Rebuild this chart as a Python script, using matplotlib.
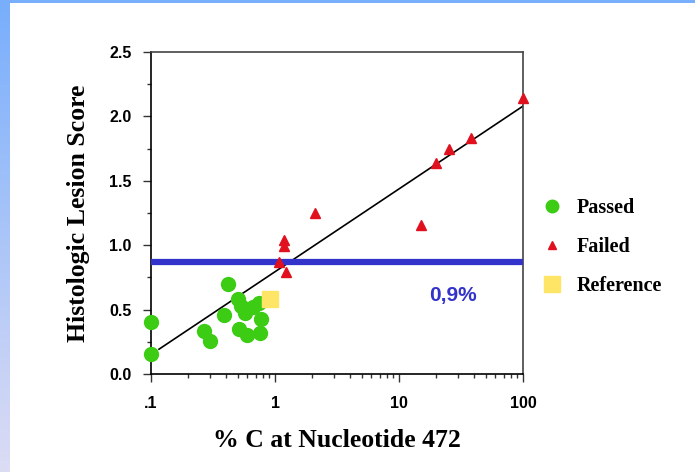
import numpy as np
import matplotlib
matplotlib.use("Agg")
import matplotlib.pyplot as plt
from matplotlib.lines import Line2D
from matplotlib.ticker import FixedLocator, LogLocator, NullFormatter

# passed samples (% C, lesion score)
passed_x = [0.1, 0.1, 0.27, 0.30, 0.42, 0.39, 0.50, 0.53, 0.51, 0.60,
            0.57, 0.67, 0.74, 0.77, 0.76]
passed_y = [0.40, 0.155, 0.33, 0.26, 0.70, 0.46, 0.58, 0.53, 0.35, 0.30,
            0.47, 0.52, 0.55, 0.43, 0.32]

# failed samples
failed_x = [1.08, 1.22, 1.18, 1.18, 2.1, 15, 19.9, 25.3, 38, 100]
failed_y = [0.87, 0.79, 0.99, 1.04, 1.25, 1.16, 1.64, 1.75, 1.83, 2.14]

# reference lot
ref_x = [0.91]
ref_y = [0.58]

# fitted line: score = a + b*log10(x)
fit_a = 0.794
fit_b = 0.643
fit_range = [0.116, 100]

threshold = 0.87
threshold_label = "0,9%"
threshold_label_pos = (27, 0.61)

xticks = [0.1, 1, 10, 100]
xticklabels = [".1", "1", "10", "100"]
yticks = [0.0, 0.5, 1.0, 1.5, 2.0, 2.5]

green = "#3ccc14"
red = "#e0101e"
yellow = "#ffe566"
blue = "#3333cc"

W, H = 695, 472
fig = plt.figure(figsize=(W / 100, H / 100), dpi=100)
fig.patch.set_facecolor("white")

# slide border: gradient strip on the left, plain strip on top
bar = fig.add_axes([0, 0, 10 / W, 1])
grad = np.linspace(0, 1, 256)[:, None]
top_c = np.array([0x78, 0xae, 0xfc]) / 255
bot_c = np.array([0xdc, 0xdc, 0xf4]) / 255
img = top_c[None, None, :] * (1 - grad[:, :, None]) + bot_c[None, None, :] * grad[:, :, None]
bar.imshow(img, aspect="auto", extent=[0, 1, 0, 1])
bar.axis("off")
topbar = fig.add_axes([0, 1 - 3 / H, 1, 3 / H])
topbar.set_facecolor("#78aefc")
topbar.set_xticks([])
topbar.set_yticks([])
for s in topbar.spines.values():
    s.set_visible(False)

ax = fig.add_axes([151 / W, 1 - 374 / H, (523 - 151) / W, (374 - 52) / H])
ax.set_xscale("log")
ax.set_xlim(0.1, 100)
ax.set_ylim(0, 2.5)

fx = np.array(fit_range)
ax.plot(fx, fit_a + fit_b * np.log10(fx), color="black", lw=1.2, zorder=2)
ax.axhline(threshold, color=blue, lw=4.5, zorder=3)

ax.plot(passed_x, passed_y, "o", color=green, ms=10, mec=green, clip_on=False, zorder=4)
ax.plot(failed_x, failed_y, "^", color=red, ms=7, mec=red, clip_on=False, zorder=4)
ax.plot(ref_x, ref_y, "s", color=yellow, ms=11, mec=yellow, clip_on=False, zorder=4)

ax.text(*threshold_label_pos, threshold_label, color=blue, fontsize=15,
        fontweight="bold", family="Liberation Sans", ha="center", va="center")

ax.xaxis.set_major_locator(FixedLocator(xticks))
ax.set_xticklabels(xticklabels)
ax.xaxis.set_minor_locator(LogLocator(base=10, subs=np.arange(2, 10)))
ax.xaxis.set_minor_formatter(NullFormatter())
ax.set_yticks(yticks)
ax.set_yticklabels([f"{v:.1f}" for v in yticks])
ax.yaxis.set_minor_locator(FixedLocator(np.arange(0.25, 2.5, 0.5)))

ax.tick_params(which="major", direction="out", length=6, width=1, colors="#333333",
               labelcolor="black", pad=8)
ax.tick_params(axis="x", which="major", pad=10)
ax.tick_params(which="minor", direction="out", length=3, width=1, colors="#333333")
for lab in ax.get_xticklabels() + ax.get_yticklabels():
    lab.set_family("Liberation Sans")
    lab.set_fontweight("bold")
    lab.set_fontsize(11.5)
for s in ax.spines.values():
    s.set_color("#444444")
    s.set_linewidth(1.2)
ax.spines["left"].set_color("black")
ax.spines["bottom"].set_color("black")

ax.set_xlabel("% C at Nucleotide 472", family="Liberation Serif", fontweight="bold",
              fontsize=18.5, labelpad=13)
ax.set_ylabel("Histologic Lesion Score", family="Liberation Serif", fontweight="bold",
              fontsize=18.5, labelpad=14)

handles = [
    Line2D([], [], ls="none", marker="o", color=green, ms=9),
    Line2D([], [], ls="none", marker="^", color=red, ms=6),
    Line2D([], [], ls="none", marker="s", color=yellow, ms=11),
]
fig.legend(handles, ["Passed", "Failed", "Reference"], loc="upper left",
           bbox_to_anchor=(522 / W, 1 - 180 / H), frameon=False,
           prop={"family": "Liberation Serif", "weight": "bold", "size": 14.5},
           labelspacing=0.95, handletextpad=0.6, handlelength=1.2)

fig.savefig("out.png", dpi=100)
